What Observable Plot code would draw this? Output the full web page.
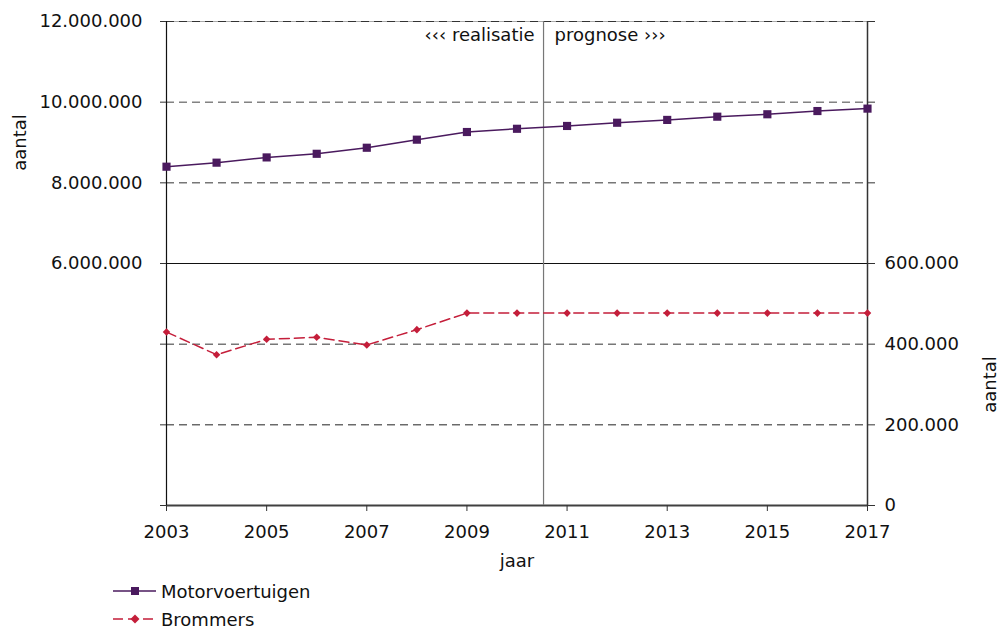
<!DOCTYPE html>
<html>
<head>
<meta charset="utf-8">
<script src="https://cdn.jsdelivr.net/npm/d3@7"></script>
<script src="https://cdn.jsdelivr.net/npm/@observablehq/plot@0.6"></script>
<style>
  body { margin: 0; background: #fff; font-family: "DejaVu Sans", Verdana, sans-serif; }
  #chart svg { display: block; }
  .legend { padding-top: 2px; padding-left: 113px; font-size: 18px; color: #111; }
  .row { height: 28px; display: flex; align-items: center; }
  .row svg { margin-right: 4px; }
</style>
</head>
<body>
<div id="chart"></div>
<div class="legend" id="legend"></div>
<script>
const years = [2003, 2004, 2005, 2006, 2007, 2008, 2009, 2010, 2011, 2012, 2013, 2014, 2015, 2016, 2017];
const motorvoertuigen = [8400000, 8500000, 8630000, 8720000, 8870000, 9070000, 9260000, 9340000, 9410000, 9490000, 9560000, 9640000, 9700000, 9780000, 9840000];
const brommers = [430000, 374000, 412000, 417000, 398000, 436000, 477000, 477000, 477000, 477000, 477000, 477000, 477000, 477000, 477000];
const leftTicks = [6000000, 8000000, 10000000, 12000000];
const rightTicks = [0, 200000, 400000, 600000];
const xTicks = [2003, 2005, 2007, 2009, 2011, 2013, 2015, 2017];
const splitYear = 2010.53;
const seriesNames = ["Motorvoertuigen", "Brommers"];
const colors = {Motorvoertuigen: "#4a1a5e", Brommers: "#c41e3a"};

// right axis (Brommers) shares the lower half of the left scale: 600.000 <-> 6.000.000
const factor = 10;

const nl = d3.formatLocale({decimal: ",", thousands: ".", grouping: [3], currency: ["€", ""]});
const fmt = nl.format(",");

const motorData = years.map((y, i) => ({year: y, value: motorvoertuigen[i]}));
const bromData = years.map((y, i) => ({year: y, value: brommers[i]}));
const allY = [0, 2000000, 4000000, 6000000, 8000000, 10000000, 12000000];
const font = "DejaVu Sans, Verdana, sans-serif";
const fs = 18;

const plot = Plot.plot({
  width: 1002,
  height: 575,
  marginLeft: 166,
  marginRight: 135,
  marginTop: 21,
  marginBottom: 70,
  style: {fontFamily: font, fontSize: fs + "px", color: "#111", background: "#fff"},
  x: {domain: [2003, 2017], label: null},
  y: {domain: [0, 12000000], label: null},
  marks: [
    // grid lines
    Plot.ruleY([10000000], {stroke: "#444", strokeDasharray: "8,5", strokeWidth: 1}),
    Plot.ruleY([8000000], {stroke: "#777", strokeDasharray: "8,5", strokeWidth: 1.5}),
    Plot.ruleY([400000 * factor], {stroke: "#777", strokeDasharray: "8,5", strokeWidth: 1.5}),
    Plot.ruleY([200000 * factor], {stroke: "#222", strokeDasharray: "8,5", strokeWidth: 1}),
    Plot.ruleY([12000000], {stroke: "#aaa", strokeWidth: 1}),
    Plot.ruleY([12000000], {stroke: "#333", strokeDasharray: "8,5", strokeWidth: 1}),
    Plot.ruleY([6000000], {stroke: "#111", strokeWidth: 1.2}),
    Plot.ruleY([0], {stroke: "#404040", strokeWidth: 2}),
    Plot.ruleX([2003], {stroke: "#111", strokeWidth: 1.2}),
    Plot.ruleX([2017], {stroke: "#333", strokeWidth: 1.5}),
    Plot.ruleX([splitYear], {stroke: "#777", strokeWidth: 1.2}),
    // axes
    Plot.axisY(allY, {anchor: "left", label: null, tickSize: 6, tickPadding: 18, stroke: "#333",
      tickFormat: d => d >= 6000000 ? fmt(d) : "", fontSize: fs}),
    Plot.axisY(allY, {anchor: "right", label: null, tickSize: 7, tickPadding: 10, stroke: "#333",
      tickFormat: d => d <= 6000000 ? fmt(d / factor) : "", fontSize: fs}),
    Plot.axisX(xTicks, {anchor: "bottom", label: null, tickSize: 6, tickPadding: 14, stroke: "#333",
      tickFormat: d => String(d), fontSize: fs}),
    // series
    Plot.line(motorData, {x: "year", y: "value", stroke: colors.Motorvoertuigen, strokeWidth: 1.5}),
    Plot.dot(motorData, {x: "year", y: "value", symbol: "square", r: 4.6, fill: colors.Motorvoertuigen, stroke: "none"}),
    Plot.line(bromData, {x: "year", y: d => d.value * factor, stroke: colors.Brommers, strokeWidth: 1.5, strokeDasharray: "10,5"}),
    Plot.dot(bromData, {x: "year", y: d => d.value * factor, symbol: "diamond2", r: 3.4, fill: colors.Brommers, stroke: "none"}),
    // annotations
    Plot.text(["‹‹‹ realisatie"], {x: splitYear, y: 12000000, text: d => d, textAnchor: "end", dx: -9, dy: 14, fontSize: fs, fill: "#111"}),
    Plot.text(["prognose ›››"], {x: splitYear, y: 12000000, text: d => d, textAnchor: "start", dx: 11, dy: 14, fontSize: fs, fill: "#111"}),
    Plot.text(["aantal"], {x: 2003, y: 9000000, text: d => d, rotate: -90, dx: -146, fontSize: fs, fill: "#111"}),
    Plot.text(["aantal"], {x: 2017, y: 3000000, text: d => d, rotate: -90, dx: 123, fontSize: fs, fill: "#111"}),
    Plot.text(["jaar"], {frameAnchor: "bottom", text: d => d, dy: 61, fontSize: fs, fill: "#111"})
  ]
});
document.getElementById("chart").appendChild(plot);

// legend
const legend = document.getElementById("legend");
seriesNames.forEach(name => {
  const row = document.createElement("div");
  row.className = "row";
  const dashed = name === "Brommers";
  const marker = dashed
    ? `<path d="M22,2.5 L26.5,7 L22,11.5 L17.5,7 Z" fill="${colors[name]}"/>`
    : `<rect x="18" y="3" width="8" height="8" fill="${colors[name]}"/>`;
  row.innerHTML = `<svg width="44" height="14"><line x1="0" x2="43" y1="7" y2="7" stroke="${colors[name]}" stroke-width="1.5" ${dashed ? 'stroke-dasharray="10,5"' : ''}/>${marker}</svg><span>${name}</span>`;
  legend.appendChild(row);
});
</script>
</body>
</html>
